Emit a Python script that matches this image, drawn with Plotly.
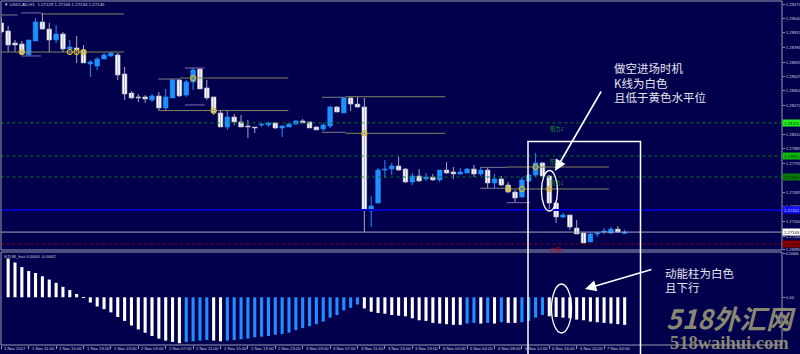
import plotly.graph_objects as go

# ---------------- data ----------------
opens = [1.29002, 1.28931, 1.28824, 1.28815, 1.28718, 1.28842, 1.29011, 1.28948, 1.28851, 1.28904,
         1.28771, 1.28780, 1.28762, 1.28638, 1.28620, 1.28682, 1.28709, 1.28718, 1.28549, 1.28380,
         1.28345, 1.28345, 1.28318, 1.28354, 1.28247, 1.28336, 1.28496, 1.28362, 1.28478, 1.28593,
         1.28425, 1.28345, 1.28203, 1.28078, 1.28167, 1.28123, 1.28087, 1.28078, 1.28096, 1.28096,
         1.28114, 1.28069, 1.28078, 1.28105, 1.28132, 1.28123, 1.28078, 1.28061, 1.28087, 1.28256,
         1.28203, 1.28336, 1.28282, 1.28256, 1.27332, 1.27403, 1.27696, 1.27705, 1.27732, 1.27705,
         1.27590, 1.27643, 1.27617, 1.27634, 1.27608, 1.27696, 1.27679, 1.27661, 1.27670, 1.27705,
         1.27661, 1.27696, 1.27581, 1.27617, 1.27563, 1.27501, 1.27457, 1.27599, 1.27652, 1.27759,
         1.27643, 1.27403, 1.27279, 1.27297, 1.27181, 1.27137, 1.27057, 1.27128, 1.27146, 1.27137,
         1.27172, 1.27134]
highs = [1.29055, 1.28975, 1.28851, 1.28842, 1.28851, 1.29046, 1.29091, 1.29002, 1.28984, 1.28922,
         1.28851, 1.28886, 1.28806, 1.28673, 1.28700, 1.28735, 1.28744, 1.28735, 1.28611, 1.28398,
         1.28371, 1.28362, 1.28371, 1.28389, 1.28416, 1.28504, 1.28504, 1.28496, 1.28602, 1.28602,
         1.28496, 1.28345, 1.28229, 1.28229, 1.28194, 1.28185, 1.28140, 1.28078, 1.28114, 1.28123,
         1.28123, 1.28096, 1.28114, 1.28140, 1.28149, 1.28123, 1.28087, 1.28114, 1.28265, 1.28265,
         1.28345, 1.28345, 1.28345, 1.28336, 1.27466, 1.27714, 1.27785, 1.27759, 1.27812, 1.27714,
         1.27670, 1.27705, 1.27670, 1.27661, 1.27696, 1.27767, 1.27723, 1.27714, 1.27714, 1.27741,
         1.27714, 1.27714, 1.27661, 1.27643, 1.27590, 1.27519, 1.27634, 1.27670, 1.27847, 1.27767,
         1.27652, 1.27412, 1.27315, 1.27297, 1.27252, 1.27137, 1.27137, 1.27146, 1.27181, 1.27190,
         1.27199, 1.27166]
lows = [1.28913, 1.28744, 1.28744, 1.28727, 1.28718, 1.28842, 1.28940, 1.28744, 1.28824, 1.28744,
        1.28718, 1.28647, 1.28647, 1.28522, 1.28584, 1.28682, 1.28700, 1.28496, 1.28318, 1.28327,
        1.28300, 1.28291, 1.28300, 1.28229, 1.28229, 1.28336, 1.28345, 1.28345, 1.28407, 1.28416,
        1.28318, 1.28185, 1.28078, 1.28052, 1.28096, 1.28078, 1.27981, 1.28025, 1.28078, 1.28078,
        1.28061, 1.27989, 1.28078, 1.28096, 1.28114, 1.28069, 1.28052, 1.28043, 1.28069, 1.28211,
        1.28203, 1.28220, 1.28247, 1.27146, 1.27190, 1.27403, 1.27625, 1.27652, 1.27688, 1.27581,
        1.27563, 1.27590, 1.27599, 1.27599, 1.27590, 1.27661, 1.27617, 1.27652, 1.27670, 1.27634,
        1.27643, 1.27537, 1.27537, 1.27554, 1.27492, 1.27412, 1.27448, 1.27590, 1.27634, 1.27634,
        1.27341, 1.27226, 1.27270, 1.27164, 1.27128, 1.27048, 1.27057, 1.27101, 1.27128, 1.27128,
        1.27137, 1.27129]
closes = [1.28922, 1.28806, 1.28806, 1.28727, 1.28851, 1.29011, 1.28948, 1.28851, 1.28904, 1.28771,
          1.28789, 1.28762, 1.28647, 1.28655, 1.28682, 1.28718, 1.28735, 1.28540, 1.28371, 1.28336,
          1.28336, 1.28327, 1.28354, 1.28247, 1.28345, 1.28496, 1.28354, 1.28478, 1.28584, 1.28416,
          1.28336, 1.28203, 1.28078, 1.28167, 1.28123, 1.28078, 1.28078, 1.28069, 1.28105, 1.28114,
          1.28069, 1.28087, 1.28105, 1.28132, 1.28114, 1.28069, 1.28052, 1.28096, 1.28256, 1.28211,
          1.28336, 1.28282, 1.28256, 1.27341, 1.27377, 1.27696, 1.27705, 1.27732, 1.27696, 1.27590,
          1.27643, 1.27599, 1.27634, 1.27608, 1.27696, 1.27670, 1.27661, 1.27679, 1.27705, 1.27661,
          1.27696, 1.27581, 1.27617, 1.27563, 1.27501, 1.27448, 1.27608, 1.27652, 1.27759, 1.27643,
          1.27403, 1.27279, 1.27297, 1.27190, 1.27128, 1.27048, 1.27128, 1.27137, 1.27155, 1.27172,
          1.27146, 1.27145]

# STLM histogram (first bar hidden under the frame)
hist = [None, 0.0059, 0.0053, 0.0046, 0.0040, 0.0037, 0.0032, 0.0027, 0.0022, 0.0016,
        0.0011, 0.0005, -0.0001, -0.0008, -0.0014, -0.0018, -0.0023, -0.0030, -0.0036, -0.0043,
        -0.0049, -0.0054, -0.0059, -0.0063, -0.0066, -0.0068, -0.0070, -0.0068, -0.0067, -0.0066,
        -0.0065, -0.0066, -0.0067, -0.0066, -0.0065, -0.0064, -0.0063, -0.0061, -0.0060, -0.0059,
        -0.0057, -0.0056, -0.0054, -0.0050, -0.0047, -0.0044, -0.0041, -0.0037, -0.0031, -0.0027,
        -0.0020, -0.0016, -0.0011, -0.0017, -0.0022, -0.0024, -0.0025, -0.0027, -0.0028, -0.0029,
        -0.0032, -0.0035, -0.0036, -0.0039, -0.0040, -0.0041, -0.0042, -0.0042, -0.0040, -0.0039,
        -0.0040, -0.0039, -0.0040, -0.0038, -0.0039, -0.0039, -0.0038, -0.0036, -0.0031, -0.0027,
        -0.0029, -0.0030, -0.0031, -0.0032, -0.0034, -0.0035, -0.0037, -0.0038, -0.0039, -0.0040,
        -0.0041, -0.0042]

time_labels = ["1 Nov 2017", "1 Nov 11:00", "1 Nov 15:00", "1 Nov 19:00", "1 Nov 23:00",
               "2 Nov 03:00", "2 Nov 07:00", "2 Nov 11:00", "2 Nov 15:00", "2 Nov 19:00",
               "2 Nov 23:00", "3 Nov 03:00", "3 Nov 07:00", "3 Nov 11:00", "3 Nov 15:00",
               "3 Nov 19:00", "6 Nov 00:00", "6 Nov 04:00", "6 Nov 08:00", "6 Nov 12:00",
               "6 Nov 16:00", "6 Nov 20:00", "7 Nov 00:00"]
bars_per_label = 4

price_ticks = [1.29170, 1.29040, 1.28915, 1.28785, 1.28655, 1.28525, 1.28400, 1.28270,
               1.28010, 1.27885, 1.27755, 1.27495, 1.27370, 1.27240, 1.27110, 1.26990]
ind_ticks = [0.0066, 0.0, -0.0073]
ind_tick_text = ["0.0066", "0.00", "-0.0073"]

res_levels = [1.28115, 1.27821, 1.27634]
res_names = ["阻力3", "阻力2", "阻力1"]
sup_levels = [1.27039]
sup_names = ["支撑1"]
pivot_level = 1.27341
bid_price = 1.27145
level_label_bar = 79.8

# partial horizontal levels drawn by the level indicator
seg_start = [-0.2, 2.9, 5.8, -0.2, 2.9, 22.9, 26.1, 26.8, 26.8, 22.9, 46.8, 50.3, 46.8, 50.3, 69.9, 73.8, 69.9, 73.8, 73.8]
seg_end = [2.4, 5.8, 17.9, 17.9, 5.8, 26.1, 41.9, 29.7, 29.7, 41.9, 50.3, 64.8, 50.3, 64.8, 73.8, 88.7, 73.8, 88.7, 77.2]
seg_price = [1.29073, 1.29091, 1.29082, 1.28744, 1.28709, 1.28504, 1.28513, 1.28602, 1.28274, 1.28224,
             1.28342, 1.28347, 1.28031, 1.28022, 1.27720, 1.27723, 1.27534, 1.27528, 1.27406]
seg_kind = ["gray", "purple", "olive", "olive", "purple", "gray", "olive", "purple", "purple", "olive",
            "gray", "olive", "gray", "olive", "gray", "olive", "gray", "olive", "purple"]

mark_idx = [3, 10, 11, 12, 28, 31, 53, 74, 76, 78, 80]
mark_price = [1.28744, 1.28744, 1.28744, 1.28744, 1.28513, 1.28224, 1.28022, 1.27528, 1.27528, 1.27723, 1.27528]

title_text = "▼ USDCAD,H1  1.27129 1.27166 1.27134 1.27145"
ind_title = "STLM_hist 0.0000 -0.0042"

# ---------------- style ----------------
W, H = 800, 354
BG = "#02004d"
BLUE = "#1e90ff"
WHITE = "#ffffff"
FRAME = "#9a9ab0"
TXT = "#d0d0dc"
SMALL = "Liberation Sans"
SEGC = {"gray": "#7c7c8c", "olive": "#84845e", "purple": "#8a6aa8"}

def px_x(p):
    return p / W

def px_y(p):
    return 1 - p / H

X0, X1 = px_x(1), px_x(782)
MAIN = [px_y(250), px_y(1)]
IND = [px_y(345), px_y(252)]

n = len(opens)
idx = list(range(n))
up = [c >= o for o, c in zip(opens, closes)]

fig = go.Figure()

# wicks
for flag, col in ((True, BLUE), (False, "#a8a8c4")):
    xs, ys = [], []
    for i in idx:
        if up[i] == flag:
            xs += [i, i, None]
            ys += [lows[i], highs[i], None]
    fig.add_trace(go.Scatter(x=xs, y=ys, mode="lines", line=dict(color=col, width=1),
                             hoverinfo="skip", showlegend=False))

# horizontal partial levels
for k in SEGC:
    xs, ys = [], []
    for s, e, p, kk in zip(seg_start, seg_end, seg_price, seg_kind):
        if kk == k:
            xs += [s, e, None]
            ys += [p, p, None]
    fig.add_trace(go.Scatter(x=xs, y=ys, mode="lines", line=dict(color=SEGC[k], width=1),
                             hoverinfo="skip", showlegend=False))

# full-width levels
xr = [-1, 120]
for lv in res_levels:
    fig.add_trace(go.Scatter(x=xr, y=[lv, lv], mode="lines",
                             line=dict(color="#0a7a1a", width=1, dash="dot"), showlegend=False))
fig.add_trace(go.Scatter(x=xr, y=[pivot_level] * 2, mode="lines",
                         line=dict(color="#0000c8", width=2), showlegend=False))
fig.add_trace(go.Scatter(x=xr, y=[bid_price] * 2, mode="lines",
                         line=dict(color="#a8a8c0", width=1), showlegend=False))
for lv in sup_levels:
    fig.add_trace(go.Scatter(x=xr, y=[lv, lv], mode="lines",
                             line=dict(color="#8a0000", width=1, dash="dot"), showlegend=False))

# candle bodies
body_base = [min(o, c) for o, c in zip(opens, closes)]
body_h = [max(abs(c - o), 0.000015) for o, c in zip(opens, closes)]
fig.add_trace(go.Bar(x=idx, y=body_h, base=body_base, width=0.68,
                     marker=dict(color=[BLUE if u else WHITE for u in up],
                                 line=dict(color=[BLUE if u else "#b8b8cc" for u in up], width=0.6)),
                     hoverinfo="skip", showlegend=False))

# level-touch markers
fig.add_trace(go.Scatter(x=mark_idx, y=mark_price, mode="markers",
                         marker=dict(symbol="circle-open", size=5, color="#d8b820", line=dict(width=1.2)),
                         showlegend=False))

# histogram
hcol = []
prev = None
for v in hist:
    if v is None or prev is None:
        hcol.append(WHITE)
    else:
        hcol.append(BLUE if v > prev else WHITE)
    prev = v
fig.add_trace(go.Bar(x=idx, y=hist, width=0.45, marker=dict(color=hcol, line=dict(width=0)),
                     xaxis="x2", yaxis="y2", hoverinfo="skip", showlegend=False))

ann = []
small = dict(size=4.2, color=TXT, family=SMALL)
# time labels
for k, lab in enumerate(time_labels):
    ann.append(dict(x=k * bars_per_label, y=px_y(348.5), xref="x", yref="paper", text=lab,
                    showarrow=False, xanchor="left", yanchor="middle", xshift=1, font=small))
# level names
for lv, nm in zip(res_levels, res_names):
    ann.append(dict(x=level_label_bar, y=lv, xref="x", yref="y", text=nm, showarrow=False,
                    xanchor="left", yanchor="top", font=dict(size=5.2, color="#1a9a2a",
                                                              family="Noto Sans CJK SC")))
for lv, nm in zip(sup_levels, sup_names):
    ann.append(dict(x=level_label_bar, y=lv, xref="x", yref="y", text=nm, showarrow=False,
                    xanchor="left", yanchor="top", font=dict(size=5.2, color="#a01010",
                                                              family="Noto Sans CJK SC")))
# price tags on the right axis
tags = [(res_levels[0], "#22ee22", "#003300"), (res_levels[1], "#10b810", "#002200"),
        (res_levels[2], "#0a7a0a", "#002200"), (pivot_level, "#1010ff", "#c0c0ff"),
        (bid_price, "#ffffff", "#000000"), (sup_levels[0], "#8a0000", "#300000")]
for lv, bg, fc in tags:
    ann.append(dict(x=X1, y=lv, xref="paper", yref="y", text=f"{lv:.5f}", showarrow=False,
                    xanchor="left", yanchor="middle", bgcolor=bg, borderpad=0, width=18, height=6,
                    font=dict(size=4.2, color=fc, family=SMALL)))
# titles
ann.append(dict(x=px_x(2), y=px_y(4.5), xref="paper", yref="paper", text=title_text, showarrow=False,
                xanchor="left", yanchor="middle", font=dict(size=4.4, color=TXT, family=SMALL)))
ann.append(dict(x=px_x(2), y=px_y(256), xref="paper", yref="paper", text=ind_title, showarrow=False,
                xanchor="left", yanchor="middle", font=dict(size=4.4, color=TXT, family=SMALL)))
# commentary text
cn = dict(size=11.5, color="#e6e6ee", family="Noto Sans CJK SC")
for t, yy in (("做空进场时机", 68.5), ("K线为白色", 82.5), ("且低于黄色水平位", 97)):
    ann.append(dict(x=px_x(612), y=px_y(yy), xref="paper", yref="paper", text=t, showarrow=False,
                    xanchor="left", yanchor="middle", font=cn))
for t, yy in (("动能柱为白色", 272.5), ("且下行", 286.5)):
    ann.append(dict(x=px_x(663), y=px_y(yy), xref="paper", yref="paper", text=t, showarrow=False,
                    xanchor="left", yanchor="middle", font=cn))
# arrows
ann.append(dict(x=px_x(555), y=px_y(171), xref="paper", yref="paper", ax=47, ay=-81, text="",
                showarrow=True, arrowhead=2, arrowsize=1.4, arrowwidth=1.6, arrowcolor="#ffffff"))
ann.append(dict(x=px_x(585), y=px_y(289), xref="paper", yref="paper", ax=68, ay=-20, text="",
                showarrow=True, arrowhead=2, arrowsize=1.4, arrowwidth=1.6, arrowcolor="#ffffff"))
# watermark
ann.append(dict(x=px_x(731), y=px_y(339), xref="paper", yref="paper", text="518外汇网", showarrow=False,
                xanchor="center", yanchor="bottom",
                font=dict(size=26.5, color="rgba(150,150,118,0.92)", family="Noto Sans CJK SC",
                          weight=700, style="italic")))
ann.append(dict(x=px_x(729), y=px_y(355), xref="paper", yref="paper", text="518waihui.com",
                showarrow=False, xanchor="center", yanchor="bottom",
                font=dict(size=18.5, color="rgba(150,150,118,0.92)",
                          family="Liberation Serif", weight=700)))

shapes = [
    dict(type="rect", xref="paper", yref="paper", x0=X0, x1=X1, y0=MAIN[0], y1=MAIN[1],
         line=dict(color=FRAME, width=1)),
    dict(type="rect", xref="paper", yref="paper", x0=X0, x1=X1, y0=IND[0], y1=IND[1],
         line=dict(color=FRAME, width=1)),
    dict(type="rect", xref="paper", yref="paper", x0=px_x(528), x1=px_x(640.5), y0=-0.05, y1=px_y(141.5),
         line=dict(color="#ffffff", width=1.5)),
    dict(type="circle", xref="paper", yref="paper", x0=px_x(541.5), x1=px_x(557.5), y0=px_y(211),
         y1=px_y(170.5), line=dict(color="#ffffff", width=1.3)),
    dict(type="circle", xref="paper", yref="paper", x0=px_x(551.5), x1=px_x(571.5), y0=px_y(333),
         y1=px_y(284), line=dict(color="#ffffff", width=1.3)),
]

x_range = [-0.044, 113.97]
main_range = [1.26986, 1.29197]
ind_range = [-0.00727, 0.00690]

fig.update_layout(
    width=W, height=H, margin=dict(l=0, r=0, t=0, b=0, pad=0, autoexpand=False),
    paper_bgcolor=BG, plot_bgcolor=BG, showlegend=False, barmode="overlay",
    xaxis=dict(domain=[X0, X1], range=x_range, showticklabels=False, showgrid=False,
               zeroline=False, ticks="", anchor="y", automargin=False),
    yaxis=dict(domain=MAIN, range=main_range, side="right", anchor="x", showgrid=False,
               zeroline=False, tickvals=price_ticks, ticktext=[f"{v:.5f}" for v in price_ticks],
               ticks="outside", ticklen=2, tickcolor=FRAME, automargin=False,
               tickfont=dict(size=4.2, color=TXT, family=SMALL)),
    xaxis2=dict(domain=[X0, X1], range=x_range, matches="x", anchor="y2", showgrid=False,
                zeroline=False, showticklabels=False, ticks="outside", ticklen=3, tickcolor=FRAME,
                automargin=False,
                tickvals=[k * bars_per_label for k in range(len(time_labels))]),
    yaxis2=dict(domain=IND, range=ind_range, side="right", anchor="x2", showgrid=False,
                zeroline=False, tickvals=ind_ticks, ticktext=ind_tick_text, ticks="outside",
                ticklen=2, tickcolor=FRAME, automargin=False,
                tickfont=dict(size=4.2, color=TXT, family=SMALL)),
    annotations=ann, shapes=shapes,
)

fig.write_html("out.html")
